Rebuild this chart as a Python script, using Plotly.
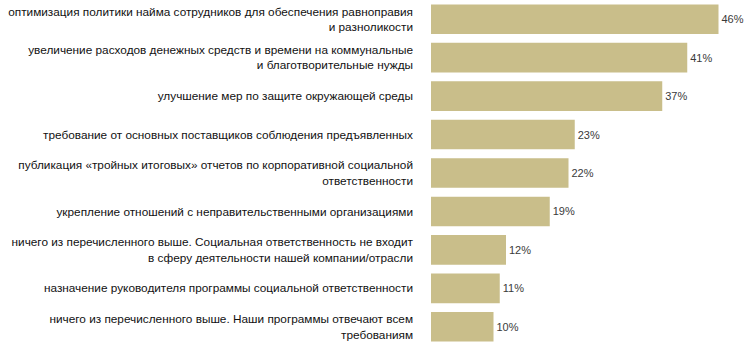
import plotly.graph_objects as go

categories = [
    "оптимизация политики найма сотрудников для обеспечения равноправия<br>и разноликости",
    "увеличение расходов денежных средств и времени на коммунальные<br>и благотворительные нужды",
    "улучшение мер по защите окружающей среды",
    "требование от основных поставщиков соблюдения предъявленных",
    "публикация «тройных итоговых» отчетов по корпоративной социальной<br>ответственности",
    "укрепление отношений с неправительственными организациями",
    "ничего из перечисленного выше. Социальная ответственность не входит<br>в сферу деятельности нашей компании/отрасли",
    "назначение руководителя программы социальной ответственности",
    "ничего из перечисленного выше. Наши программы отвечают всем<br>требованиям",
]
values = [46, 41, 37, 23, 22, 19, 12, 11, 10]
labels = [f"{v}%" for v in values]

fig = go.Figure(go.Bar(
    x=values,
    y=categories,
    orientation="h",
    marker=dict(color="#c9be8a", line=dict(width=0)),
    text=labels,
    textposition="outside",
    textfont=dict(family="Liberation Sans, Arial, sans-serif", size=11, color="#3a3a3a"),
    cliponaxis=False,
))

fig.update_layout(
    width=747,
    height=349,
    margin=dict(l=431, r=6, t=0, b=3),
    paper_bgcolor="white",
    plot_bgcolor="white",
    bargap=0.23,
    showlegend=False,
    font=dict(family="Liberation Sans, Arial, sans-serif", size=12, color="#111111"),
    xaxis=dict(range=[0, 49.6], visible=False, showgrid=False, zeroline=False),
    yaxis=dict(
        autorange="reversed",
        showgrid=False,
        zeroline=False,
        showline=False,
        ticks="",
        ticklabelstandoff=17,
        tickfont=dict(family="Liberation Sans, Arial, sans-serif", size=11.8, color="#111111"),
        automargin=False,
    ),
)

fig.write_html("out.html")
